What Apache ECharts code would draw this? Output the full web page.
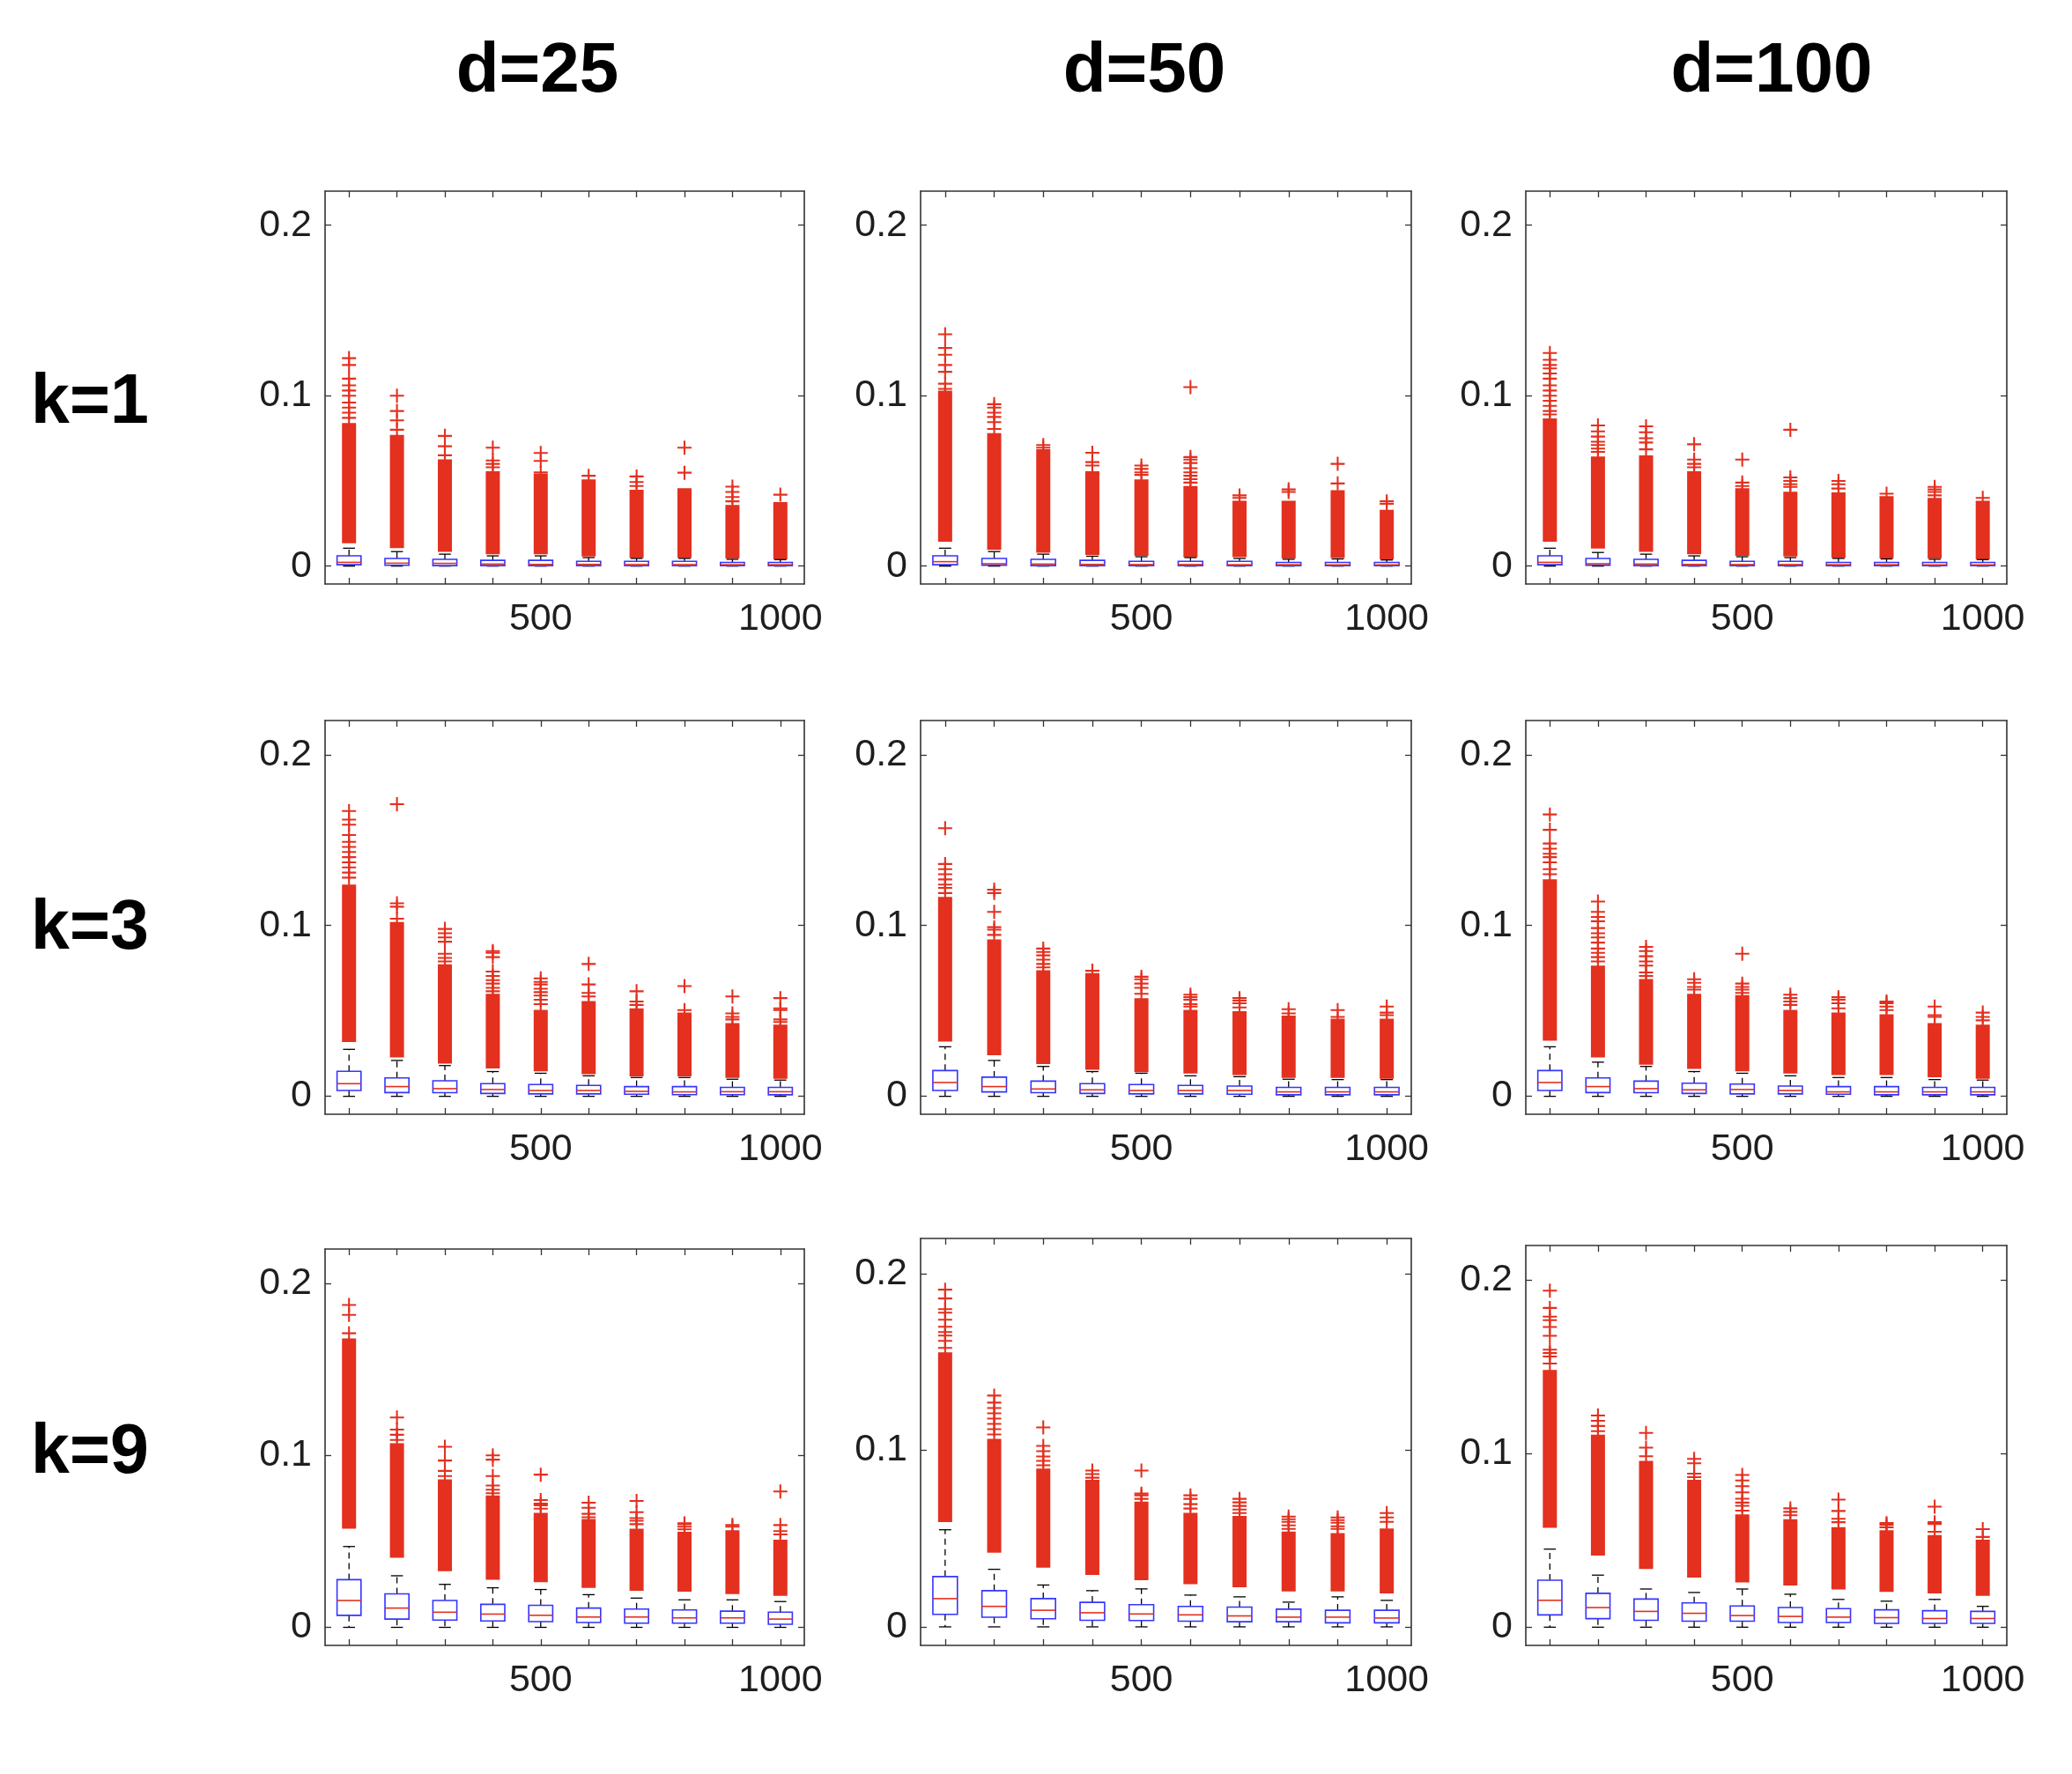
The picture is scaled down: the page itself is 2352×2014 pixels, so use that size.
<!DOCTYPE html>
<html>
<head>
<meta charset="utf-8">
<script src="https://cdn.jsdelivr.net/npm/echarts@6/dist/echarts.min.js"></script>
<style>
html,body{margin:0;padding:0;background:#fff;}
#chart{width:2352px;height:2014px;}
</style>
</head>
<body>
<div id="chart"></div>
<script>
// ---------------- data ----------------
const categories = ['100','200','300','400','500','600','700','800','900','1000'];
const shownXLabels = ['500','1000'];
const yTicks = [0, 0.1, 0.2];
const colTitles = ['d=25','d=50','d=100'];
const rowTitles = ['k=1','k=3','k=9'];
const whiskerLow = [0,0,0,0,0,0,0,0,0,0];

// k=1, d=25
const k1d25_q1  = [0.0008,0.0005,0.0003,0.0003,0.0003,0.0003,0.0002,0.0002,0.0002,0.0002];
const k1d25_med = [0.0022,0.0017,0.0016,0.0012,0.0010,0.0010,0.0009,0.0009,0.0008,0.0008];
const k1d25_q3  = [0.0060,0.0045,0.0040,0.0034,0.0034,0.0028,0.0028,0.0028,0.0022,0.0022];
const k1d25_wh  = [0.0105,0.0085,0.0070,0.0060,0.0060,0.0050,0.0045,0.0045,0.0040,0.0038];
const k1d25_bandLo = [0.0134,0.0105,0.0083,0.0069,0.0069,0.0057,0.0048,0.0048,0.0045,0.0040];
const k1d25_bandHi = [0.0840,0.0770,0.0626,0.0557,0.0543,0.0509,0.0448,0.0457,0.0359,0.0376];
const k1d25_out = [[0.087,0.09,0.093,0.096,0.1,0.103,0.106,0.11,0.118,0.122],[0.08,0.0855,0.091,0.1],[0.065,0.0703,0.0764],[0.058,0.06,0.062,0.0695],[0.055,0.0617,0.0664],[0.053],[0.047,0.0493,0.0526],[0.0548,0.0695],[0.038,0.0405,0.0435,0.0466],[0.0419]];

// k=1, d=50
const k1d50_q1  = [0.0008,0.0005,0.0003,0.0003,0.0003,0.0003,0.0002,0.0002,0.0002,0.0002];
const k1d50_med = [0.0026,0.0014,0.0012,0.0010,0.0009,0.0009,0.0008,0.0008,0.0007,0.0007];
const k1d50_q3  = [0.0060,0.0045,0.0040,0.0034,0.0028,0.0028,0.0028,0.0022,0.0022,0.0022];
const k1d50_wh  = [0.0105,0.0085,0.0070,0.0058,0.0055,0.0050,0.0045,0.0040,0.0042,0.0036];
const k1d50_bandLo = [0.0143,0.0095,0.0079,0.0066,0.0060,0.0053,0.0053,0.0045,0.0048,0.0040];
const k1d50_bandHi = [0.1030,0.0780,0.0686,0.0557,0.0509,0.0470,0.0384,0.0384,0.0445,0.0330];
const k1d50_out = [[0.104,0.107,0.114,0.118,0.124,0.128,0.136],[0.0805,0.0845,0.0875,0.09,0.093,0.095],[0.0695,0.071],[0.059,0.061,0.0665],[0.0535,0.055,0.057,0.059],[0.049,0.051,0.053,0.055,0.0575,0.0605,0.0625,0.064,0.105],[0.04,0.0415],[0.0435,0.045],[0.0485,0.06],[0.0365,0.038]];

// k=1, d=100
const k1d100_q1  = [0.0008,0.0005,0.0003,0.0003,0.0003,0.0003,0.0002,0.0002,0.0002,0.0002];
const k1d100_med = [0.0022,0.0014,0.0012,0.0010,0.0009,0.0009,0.0008,0.0008,0.0007,0.0007];
const k1d100_q3  = [0.0060,0.0045,0.0040,0.0034,0.0028,0.0028,0.0022,0.0022,0.0022,0.0022];
const k1d100_wh  = [0.0105,0.0080,0.0070,0.0060,0.0055,0.0050,0.0045,0.0042,0.0040,0.0038];
const k1d100_bandLo = [0.0143,0.0103,0.0083,0.0069,0.0060,0.0057,0.0048,0.0045,0.0045,0.0040];
const k1d100_bandHi = [0.0867,0.0643,0.0650,0.0557,0.0457,0.0436,0.0433,0.0410,0.0400,0.0384];
const k1d100_out = [[0.089,0.091,0.094,0.097,0.1,0.103,0.106,0.11,0.113,0.116,0.118,0.121,0.125],[0.067,0.069,0.071,0.073,0.076,0.079,0.0825],[0.0685,0.0725,0.075,0.0785,0.082],[0.058,0.06,0.0625,0.0715],[0.047,0.049,0.0625],[0.0465,0.048,0.05,0.052,0.08],[0.0455,0.048,0.05],[0.0425],[0.0415,0.0435,0.045,0.0465],[0.04]];

// k=3, d=25
const k3d25_q1  = [0.0034,0.0022,0.0021,0.0017,0.0014,0.0014,0.0012,0.0010,0.0010,0.0009];
const k3d25_med = [0.0074,0.0057,0.0045,0.0040,0.0034,0.0034,0.0029,0.0026,0.0027,0.0027];
const k3d25_q3  = [0.0146,0.0108,0.0091,0.0074,0.0069,0.0064,0.0057,0.0057,0.0052,0.0052];
const k3d25_wh  = [0.0275,0.0210,0.0180,0.0145,0.0135,0.0120,0.0110,0.0110,0.0100,0.0095];
const k3d25_bandLo = [0.0318,0.0228,0.0192,0.0163,0.0146,0.0129,0.0117,0.0117,0.0108,0.0103];
const k3d25_bandHi = [0.1240,0.1020,0.0773,0.0600,0.0506,0.0558,0.0515,0.0490,0.0429,0.0420];
const k3d25_out = [[0.128,0.131,0.134,0.137,0.14,0.143,0.146,0.149,0.153,0.159,0.162,0.167],[0.104,0.111,0.113,0.171],[0.079,0.081,0.0835,0.0905,0.093,0.0955,0.098],[0.0615,0.0635,0.066,0.068,0.0705,0.073,0.0815,0.084,0.085],[0.054,0.0565,0.059,0.061,0.063,0.0655,0.067,0.069],[0.0585,0.0605,0.0655,0.0775],[0.0535,0.0555,0.0615],[0.0505,0.0645],[0.045,0.0465,0.0485,0.0585],[0.0435,0.045,0.0505,0.0515,0.0575]];

// k=3, d=50
const k3d50_q1  = [0.0034,0.0026,0.0021,0.0017,0.0014,0.0014,0.0012,0.0009,0.0009,0.0009];
const k3d50_med = [0.0081,0.0057,0.0043,0.0038,0.0034,0.0034,0.0034,0.0026,0.0026,0.0026];
const k3d50_q3  = [0.0151,0.0112,0.0089,0.0074,0.0069,0.0064,0.0060,0.0052,0.0052,0.0052];
const k3d50_wh  = [0.0290,0.0210,0.0175,0.0145,0.0135,0.0120,0.0115,0.0100,0.0098,0.0098];
const k3d50_bandLo = [0.0321,0.0240,0.0189,0.0155,0.0141,0.0134,0.0125,0.0108,0.0108,0.0103];
const k3d50_bandHi = [0.1167,0.0918,0.0738,0.0721,0.0575,0.0506,0.0498,0.0472,0.0455,0.0455];
const k3d50_out = [[0.119,0.122,0.124,0.127,0.13,0.133,0.136,0.157],[0.0945,0.0975,0.099,0.108,0.119,0.121],[0.0755,0.0775,0.08,0.0825,0.0845,0.0865],[0.0735],[0.06,0.0635,0.066,0.0685,0.07],[0.0525,0.054,0.0565,0.058,0.0595],[0.052,0.0545,0.056,0.0575],[0.0485,0.051],[0.0465,0.0505],[0.0475,0.049,0.0525]];

// k=3, d=100
const k3d100_q1  = [0.0034,0.0022,0.0021,0.0017,0.0014,0.0014,0.0012,0.0009,0.0009,0.0009];
const k3d100_med = [0.0081,0.0057,0.0045,0.0038,0.0040,0.0034,0.0026,0.0026,0.0026,0.0026];
const k3d100_q3  = [0.0151,0.0108,0.0089,0.0077,0.0072,0.0060,0.0057,0.0057,0.0052,0.0052];
const k3d100_wh  = [0.0290,0.0200,0.0175,0.0145,0.0135,0.0120,0.0110,0.0110,0.0098,0.0095];
const k3d100_bandLo = [0.0326,0.0228,0.0185,0.0160,0.0146,0.0134,0.0124,0.0124,0.0112,0.0103];
const k3d100_bandHi = [0.1270,0.0765,0.0687,0.0600,0.0592,0.0506,0.0490,0.0480,0.0429,0.0420];
const k3d100_out = [[0.13,0.133,0.137,0.14,0.142,0.145,0.148,0.156,0.165],[0.079,0.0815,0.084,0.0865,0.09,0.093,0.0955,0.0985,0.1025,0.105,0.108,0.114],[0.0705,0.0725,0.0765,0.079,0.082,0.085,0.0875],[0.0625,0.064,0.0665,0.0685],[0.0605,0.0625,0.064,0.066,0.0835],[0.0535,0.0555,0.0575,0.0595],[0.0515,0.0545,0.0565,0.058],[0.0505,0.0525,0.0545,0.0555],[0.0465,0.0475,0.0525],[0.0445,0.0465,0.049]];

// k=9, d=25
const k9d25_q1  = [0.0070,0.0048,0.0042,0.0037,0.0033,0.0028,0.0024,0.0024,0.0024,0.0018];
const k9d25_med = [0.0156,0.0112,0.0088,0.0077,0.0070,0.0060,0.0060,0.0055,0.0055,0.0048];
const k9d25_q3  = [0.0277,0.0195,0.0156,0.0134,0.0128,0.0112,0.0106,0.0101,0.0094,0.0088];
const k9d25_wh  = [0.0470,0.0300,0.0250,0.0230,0.0220,0.0190,0.0170,0.0160,0.0160,0.0150];
const k9d25_bandLo = [0.0574,0.0405,0.0327,0.0277,0.0262,0.0229,0.0213,0.0207,0.0194,0.0183];
const k9d25_bandHi = [0.1680,0.1070,0.0860,0.0767,0.0666,0.0630,0.0574,0.0556,0.0565,0.0510];
const k9d25_out = [[0.171,0.1817,0.1875],[0.109,0.112,0.115,0.122],[0.088,0.091,0.097,0.105],[0.078,0.08,0.0825,0.088,0.0975,0.1],[0.069,0.071,0.072,0.074,0.0888],[0.064,0.066,0.0695,0.0725],[0.06,0.062,0.0635,0.067,0.0735],[0.057,0.0585,0.06,0.0605],[0.0585,0.0595],[0.054,0.056,0.0595,0.079]];

// k=9, d=50
const k9d50_q1  = [0.0071,0.0055,0.0046,0.0037,0.0036,0.0032,0.0029,0.0029,0.0023,0.0023];
const k9d50_med = [0.0160,0.0116,0.0094,0.0080,0.0073,0.0068,0.0062,0.0055,0.0055,0.0050];
const k9d50_q3  = [0.0285,0.0205,0.0160,0.0139,0.0126,0.0116,0.0112,0.0100,0.0094,0.0094];
const k9d50_wh  = [0.0550,0.0326,0.0237,0.0205,0.0215,0.0180,0.0170,0.0140,0.0170,0.0150];
const k9d50_bandLo = [0.0593,0.0420,0.0335,0.0294,0.0264,0.0242,0.0224,0.0201,0.0201,0.0189];
const k9d50_bandHi = [0.1555,0.1065,0.0896,0.0833,0.0709,0.0646,0.0629,0.0540,0.0531,0.0557];
const k9d50_out = [[0.158,0.162,0.165,0.167,0.17,0.174,0.178,0.18,0.186,0.191],[0.109,0.112,0.115,0.118,0.121,0.124,0.127,0.131],[0.0915,0.094,0.0965,0.0995,0.1025,0.113],[0.0845,0.0865,0.0885],[0.0725,0.0745,0.0755,0.0885],[0.067,0.0695,0.0725,0.0745],[0.0645,0.0665,0.0685,0.0705,0.0725],[0.0555,0.0575,0.0595,0.061,0.0625],[0.0555,0.057,0.059,0.0605,0.062],[0.0595,0.062,0.0645]];

// k=9, d=100
const k9d100_q1  = [0.0071,0.0049,0.0040,0.0035,0.0035,0.0027,0.0027,0.0022,0.0022,0.0022];
const k9d100_med = [0.0155,0.0113,0.0091,0.0080,0.0067,0.0062,0.0058,0.0055,0.0050,0.0050];
const k9d100_q3  = [0.0271,0.0195,0.0162,0.0140,0.0122,0.0113,0.0107,0.0100,0.0095,0.0091];
const k9d100_wh  = [0.0450,0.0300,0.0220,0.0200,0.0220,0.0190,0.0160,0.0150,0.0160,0.0120];
const k9d100_bandLo = [0.0573,0.0413,0.0335,0.0286,0.0258,0.0240,0.0217,0.0204,0.0195,0.0180];
const k9d100_bandHi = [0.1483,0.1110,0.0959,0.0850,0.0650,0.0622,0.0577,0.0559,0.0531,0.0504];
const k9d100_out = [[0.152,0.156,0.158,0.16,0.168,0.173,0.177,0.179,0.184,0.194],[0.113,0.116,0.119,0.122],[0.0985,0.1035,0.112],[0.0865,0.0885,0.0945,0.097],[0.0672,0.07,0.0718,0.074,0.0777,0.0813,0.0846,0.0877],[0.0645,0.0665,0.0685],[0.0605,0.0625,0.067,0.0735],[0.0575,0.059,0.06],[0.055,0.0595,0.0605,0.0695],[0.052,0.0565]];

// ---------------- layout & style ----------------
const panels = [
  [k1d25_q1,k1d25_med,k1d25_q3,k1d25_wh,k1d25_bandLo,k1d25_bandHi,k1d25_out],
  [k1d50_q1,k1d50_med,k1d50_q3,k1d50_wh,k1d50_bandLo,k1d50_bandHi,k1d50_out],
  [k1d100_q1,k1d100_med,k1d100_q3,k1d100_wh,k1d100_bandLo,k1d100_bandHi,k1d100_out],
  [k3d25_q1,k3d25_med,k3d25_q3,k3d25_wh,k3d25_bandLo,k3d25_bandHi,k3d25_out],
  [k3d50_q1,k3d50_med,k3d50_q3,k3d50_wh,k3d50_bandLo,k3d50_bandHi,k3d50_out],
  [k3d100_q1,k3d100_med,k3d100_q3,k3d100_wh,k3d100_bandLo,k3d100_bandHi,k3d100_out],
  [k9d25_q1,k9d25_med,k9d25_q3,k9d25_wh,k9d25_bandLo,k9d25_bandHi,k9d25_out],
  [k9d50_q1,k9d50_med,k9d50_q3,k9d50_wh,k9d50_bandLo,k9d50_bandHi,k9d50_out],
  [k9d100_q1,k9d100_med,k9d100_q3,k9d100_wh,k9d100_bandLo,k9d100_bandHi,k9d100_out]
];

const gridLefts = [369, 1045, 1732];
const gridRights = [913, 1602, 2278];
const gridTops = [[217,217,217],[818,818,818],[1418,1406,1414]];
const gridBottoms = [663, 1265, 1868];
const titleX = [610, 1299, 2011];
const titleY = 82;
const rowLabelX = 35;
const rowLabelY = [458, 1055, 1650];

const RED = '#e3301f';
const BLUE = '#3535ff';
const AXIS = '#333333';
const LABEL = '#1e1e1e';
const FONT = 'Liberation Sans, Arial, Helvetica, sans-serif';
const Y_MIN = -0.0105, Y_MAX = 0.22;

const plusPath = 'path://M0,4.35H10V5.65H0Z M4.35,0H5.65V10H4.35Z';

function renderBox(params, api) {
  const i = api.value(0);
  const pWl = api.coord([i, api.value(1)]);
  const pQ1 = api.coord([i, api.value(2)]);
  const pMed = api.coord([i, api.value(3)]);
  const pQ3 = api.coord([i, api.value(4)]);
  const pWh = api.coord([i, api.value(5)]);
  const bw = api.size([1, 0])[0] * 0.5;
  const x = pQ1[0];
  const wStyle = {stroke: '#000', lineWidth: 1.3, lineDash: [7, 5]};
  return {
    type: 'group',
    children: [
      {type: 'line', shape: {x1: x, y1: pQ3[1], x2: x, y2: pWh[1]}, style: wStyle},
      {type: 'line', shape: {x1: x, y1: pQ1[1], x2: x, y2: pWl[1]}, style: wStyle},
      {type: 'line', shape: {x1: x - bw / 4, y1: pWh[1], x2: x + bw / 4, y2: pWh[1]}, style: {stroke: '#000', lineWidth: 1.3}},
      {type: 'line', shape: {x1: x - bw / 4, y1: pWl[1], x2: x + bw / 4, y2: pWl[1]}, style: {stroke: '#000', lineWidth: 1.3}},
      {type: 'rect', shape: {x: x - bw / 2, y: pQ3[1], width: bw, height: pQ1[1] - pQ3[1]}, style: {fill: 'rgba(0,0,0,0)', stroke: BLUE, lineWidth: 1.6}},
      {type: 'line', shape: {x1: x - bw / 2, y1: pMed[1], x2: x + bw / 2, y2: pMed[1]}, style: {stroke: RED, lineWidth: 1.6}}
    ]
  };
}

function renderBand(params, api) {
  const i = api.value(0);
  const pLo = api.coord([i, api.value(1)]);
  const pHi = api.coord([i, api.value(2)]);
  const w = 16;
  return {type: 'rect', shape: {x: pLo[0] - w / 2, y: pHi[1], width: w, height: pLo[1] - pHi[1]}, style: {fill: RED}};
}

const grids = [], xAxes = [], yAxes = [], series = [], graphics = [];

panels.forEach((p, idx) => {
  const r = Math.floor(idx / 3), c = idx % 3;
  const [q1, med, q3, wh, bLo, bHi, outs] = p;
  const top = gridTops[r][c];
  grids.push({left: gridLefts[c], top: top, width: gridRights[c] - gridLefts[c], height: gridBottoms[r] - top, containLabel: false});
  const gi = grids.length - 1;
  const tickStyle = {color: AXIS, width: 1.3};
  xAxes.push({
    type: 'category', gridIndex: gi, data: categories, position: 'bottom', boundaryGap: true,
    axisLine: {show: true, onZero: false, lineStyle: {color: AXIS, width: 1.6}},
    axisTick: {show: true, inside: true, alignWithLabel: true, interval: 0, length: 7, lineStyle: tickStyle},
    axisLabel: {
      show: true, interval: 0, margin: 19, color: LABEL, fontSize: 43, fontFamily: FONT,
      formatter: (v) => shownXLabels.indexOf(v) >= 0 ? v : ''
    },
    splitLine: {show: false}
  });
  xAxes.push({
    type: 'category', gridIndex: gi, data: categories, position: 'top', boundaryGap: true,
    axisLine: {show: true, onZero: false, lineStyle: {color: AXIS, width: 1.6}},
    axisTick: {show: true, inside: true, alignWithLabel: true, interval: 0, length: 7, lineStyle: tickStyle},
    axisLabel: {show: false}, splitLine: {show: false}
  });
  yAxes.push({
    type: 'value', gridIndex: gi, min: Y_MIN, max: Y_MAX, position: 'left',
    axisLine: {show: true, onZero: false, lineStyle: {color: AXIS, width: 1.6}},
    axisTick: {show: true, inside: true, length: 7, customValues: yTicks, lineStyle: tickStyle},
    axisLabel: {show: true, customValues: yTicks, margin: 15, color: LABEL, fontSize: 43, fontFamily: FONT,
      formatter: (v) => (Math.abs(v) < 1e-9 ? '0' : String(Math.round(v * 10) / 10))},
    splitLine: {show: false}
  });
  yAxes.push({
    type: 'value', gridIndex: gi, min: Y_MIN, max: Y_MAX, position: 'right',
    axisLine: {show: true, onZero: false, lineStyle: {color: AXIS, width: 1.6}},
    axisTick: {show: true, inside: true, length: 7, customValues: yTicks, lineStyle: tickStyle},
    axisLabel: {show: false}, splitLine: {show: false}
  });
  const xi = xAxes.length - 2, yi = yAxes.length - 2;

  series.push({
    type: 'custom', xAxisIndex: xi, yAxisIndex: yi, renderItem: renderBand, silent: true,
    encode: {x: 0, y: [1, 2]},
    data: categories.map((cat, i) => [i, bLo[i], bHi[i]]), z: 2
  });
  series.push({
    type: 'custom', xAxisIndex: xi, yAxisIndex: yi, renderItem: renderBox, silent: true,
    encode: {x: 0, y: [1, 2, 3, 4, 5]},
    data: categories.map((cat, i) => [i, whiskerLow[i], q1[i], med[i], q3[i], wh[i]]), z: 3
  });
  const pts = [];
  outs.forEach((arr, i) => arr.forEach(v => pts.push([i, v])));
  series.push({
    type: 'scatter', xAxisIndex: xi, yAxisIndex: yi, silent: true,
    symbol: plusPath, symbolSize: 16, itemStyle: {color: RED, opacity: 1},
    data: pts, z: 4
  });
});

colTitles.forEach((t, c) => {
  graphics.push({type: 'text', style: {
    text: t, x: titleX[c], y: titleY, fill: '#000', fontSize: 80, fontWeight: 'bold', fontFamily: FONT,
    textAlign: 'center', textVerticalAlign: 'middle'}});
});
rowTitles.forEach((t, r) => {
  graphics.push({type: 'text', style: {
    text: t, x: rowLabelX, y: rowLabelY[r], fill: '#000', fontSize: 79, fontWeight: 'bold', fontFamily: FONT,
    textAlign: 'left', textVerticalAlign: 'middle'}});
});

const chart = echarts.init(document.getElementById('chart'), null, {renderer: 'canvas'});
chart.setOption({
  backgroundColor: '#ffffff',
  animation: false,
  grid: grids,
  xAxis: xAxes,
  yAxis: yAxes,
  series: series,
  graphic: graphics
});
</script>
</body>
</html>
